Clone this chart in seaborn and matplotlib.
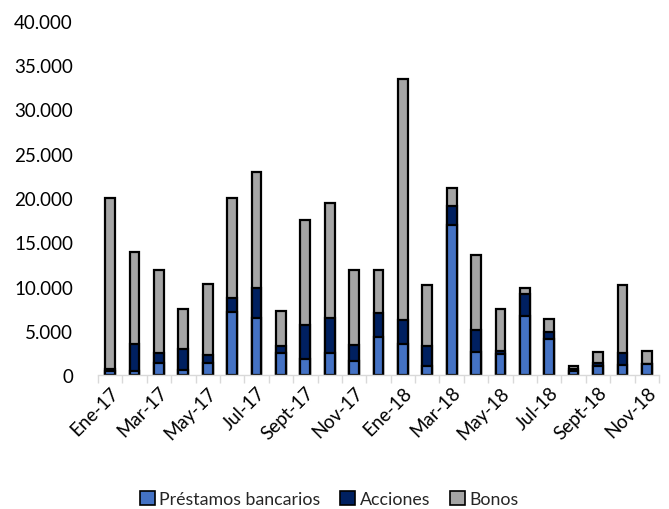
import matplotlib
matplotlib.use("Agg")
import matplotlib.pyplot as plt
import seaborn as sns
import numpy as np
import pandas as pd
from matplotlib.patches import Patch
from matplotlib.ticker import FuncFormatter, FixedLocator

# Monthly issuance, 2017-2018
months = ["Ene-17", "Feb-17", "Mar-17", "Abr-17", "May-17", "Jun-17", "Jul-17", "Ago-17",
          "Sept-17", "Oct-17", "Nov-17", "Dic-17", "Ene-18", "Feb-18", "Mar-18", "Abr-18",
          "May-18", "Jun-18", "Jul-18", "Ago-18", "Sept-18", "Oct-18", "Nov-18"]
prestamos = [400, 400, 1400, 600, 1400, 7100, 6400, 2500, 1800, 2500, 1600, 4300,
             3550, 1050, 17000, 2550, 2400, 6650, 4050, 450, 1050, 1150, 1200]
acciones = [300, 3100, 1100, 2300, 850, 1600, 3400, 800, 3850, 3900, 1800, 2700,
            2700, 2250, 2050, 2550, 300, 2550, 850, 250, 300, 1350, 0]
bonos = [19300, 10350, 9350, 4600, 8000, 11300, 13100, 3900, 11900, 13000, 8450, 4850,
         27200, 6900, 2100, 8500, 4750, 650, 1400, 350, 1200, 7700, 1550]

series_names = ["Préstamos bancarios", "Acciones", "Bonos"]
colors = ["#4472C4", "#002060", "#A5A5A5"]

df = pd.DataFrame({"mes": months, "prestamos": prestamos,
                   "acciones": acciones, "bonos": bonos})
df["cum1"] = df["prestamos"]
df["cum2"] = df["cum1"] + df["acciones"]
df["cum3"] = df["cum2"] + df["bonos"]

sns.set_theme(style="white")
plt.rcParams["font.family"] = ["Lato", "DejaVu Sans"]

fig = plt.figure(figsize=(6.69, 5.10), dpi=100)
ax = fig.add_axes([0.1465, 0.2627, 0.8385, 0.6942])

# stacked bars: draw cumulative totals from the top layer down
for col, color in zip(["cum3", "cum2", "cum1"], colors[::-1]):
    sns.barplot(data=df, x="mes", y=col, color=color, edgecolor="black",
                linewidth=1.6, width=0.4, ax=ax, zorder=2, saturation=1)

ax.set_ylim(0, 40000)
ax.set_xlim(-0.5, len(months) - 0.5)
ax.set_yticks(np.arange(0, 40001, 5000))
ax.yaxis.set_major_formatter(FuncFormatter(lambda v, p: f"{int(v):,}".replace(",", ".")))
ax.set_xlabel("")
ax.set_ylabel("")

shown = list(range(0, len(months), 2))
ax.set_xticks(shown)
ax.set_xticklabels([months[i] for i in shown], rotation=45, ha="right",
                   rotation_mode="anchor")
ax.xaxis.set_minor_locator(FixedLocator(np.arange(-0.5, len(months), 1.0)))
ax.tick_params(axis="x", which="major", length=0, pad=6, labelsize=13.5, colors="#000000")
ax.tick_params(axis="x", which="minor", length=6, width=1, color="#D9D9D9", bottom=True)
ax.tick_params(axis="y", length=0, pad=18, labelsize=13.5, colors="#000000")

for s in ["top", "right", "left"]:
    ax.spines[s].set_visible(False)
ax.spines["bottom"].set_color("#D9D9D9")
ax.spines["bottom"].set_linewidth(1)
ax.grid(False)

handles = [Patch(facecolor=c, edgecolor="black", linewidth=1.2, label=n)
           for c, n in zip(colors, series_names)]
fig.legend(handles=handles, loc="center", bbox_to_anchor=(0.492, 0.02), ncol=3,
           frameon=False, fontsize=12.8, handlelength=0.85, handleheight=0.85,
           handletextpad=0.25, columnspacing=1.1)

fig.savefig("out.png", dpi=100)
